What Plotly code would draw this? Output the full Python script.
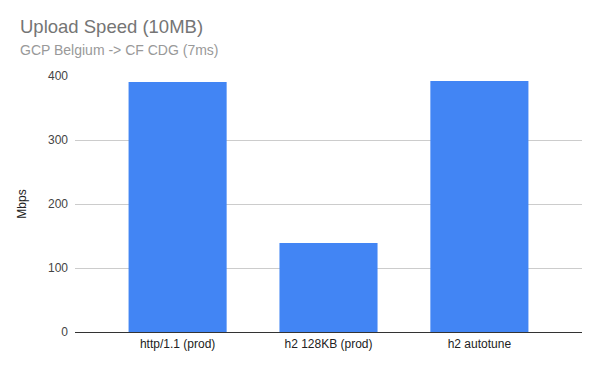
import plotly.graph_objects as go

categories = ["http/1.1 (prod)", "h2 128KB (prod)", "h2 autotune"]
mbps = [390.6, 139, 392.2]
y_ticks = [0, 100, 200, 300, 400]

W, H = 600, 368
L, R, T, B = 75, 18, 76, 36
plot_h = H - T - B
plot_w = W - L - R

def px_to_paper_y(py):
    return (H - B - py) / plot_h

def px_to_paper_x(px):
    return (px - L) / plot_w

fig = go.Figure(go.Bar(
    x=categories, y=mbps, marker=dict(color="#4285f4", line=dict(width=0)),
    hoverinfo="x+y",
))

fig.update_layout(
    width=W, height=H,
    margin=dict(l=L, r=R, t=T, b=B),
    paper_bgcolor="white", plot_bgcolor="white",
    font=dict(family="Liberation Sans, Arial, sans-serif", size=12, color="#222222"),
    bargap=0.35,
    showlegend=False,
    xaxis=dict(
        range=[-0.68, 2.68], showgrid=False, zeroline=False,
        showline=False, ticks="", tickfont=dict(size=12, color="#222222"),
        ticklabelstandoff=3,
    ),
    yaxis=dict(
        range=[0, 400], tickvals=y_ticks, showgrid=True, gridcolor="#cccccc",
        gridwidth=1, zeroline=True, zerolinecolor="#333333", zerolinewidth=1,
        showline=False, ticks="", tickfont=dict(size=12, color="#444444"),
        title=dict(text="Mbps", font=dict(size=12, color="#222222"), standoff=18),
        ticklabelstandoff=6,
    ),
    annotations=[
        dict(text="Upload Speed (10MB)", xref="paper", yref="paper",
             x=px_to_paper_x(18), y=px_to_paper_y(26), xanchor="left", yanchor="middle",
             showarrow=False, font=dict(size=18.5, color="#757575")),
        dict(text="GCP Belgium -> CF CDG (7ms)", xref="paper", yref="paper",
             x=px_to_paper_x(18), y=px_to_paper_y(50), xanchor="left", yanchor="middle",
             showarrow=False, font=dict(size=14, color="#999999")),
    ],
)

fig.write_html("out.html", config={"displayModeBar": False},
               post_script="document.body.style.margin='0';")
